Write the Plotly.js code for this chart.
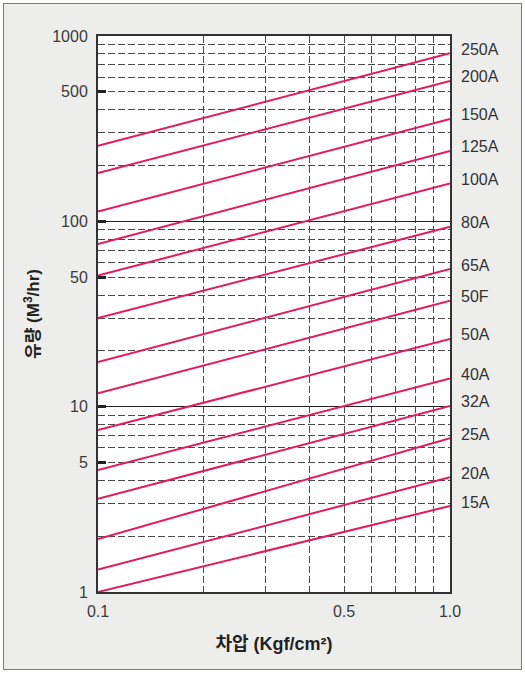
<!DOCTYPE html>
<html>
<head>
<meta charset="utf-8">
<script src="https://cdn.plot.ly/plotly-3.0.1.min.js"></script>
<style>
  html, body { margin: 0; padding: 0; background: #ffffff; }
  #chart { position: absolute; left: 3px; top: 3px; width: 517px; height: 665px; border: 1px solid #7a7a7a; }
</style>
</head>
<body>
<div id="chart"></div>
<script>
// Differential pressure (Kgf/cm²) at the two ends of each line
const pressure = [0.1, 1.0];
// Valve sizes (line labels)
const sizes = ['250A', '200A', '150A', '125A', '100A', '80A', '65A', '50F', '50A', '40A', '32A', '25A', '20A', '15A'];
// Flow (M³/hr) at 0.1 Kgf/cm²
const flowAtLow = [256, 182, 113, 75.5, 51, 30.1, 17.4, 11.8, 7.48, 4.55, 3.18, 1.93, 1.32, 1.0];
// Flow (M³/hr) at 1.0 Kgf/cm²
const flowAtHigh = [807, 572, 357, 240, 160, 93.5, 55.3, 37.3, 23.2, 14.2, 10.1, 6.75, 4.16, 2.91];

// Axis ticks
const yTickVals = [1, 5, 10, 50, 100, 500, 1000];
const yTickText = ['1', '5', '10', '50', '100', '500', '1000'];
const yMinorGrid = [2, 3, 4, 5, 6, 7, 8, 9, 20, 30, 40, 50, 60, 70, 80, 90, 200, 300, 400, 500, 600, 700, 800, 900];
const yMajorGrid = [10, 100];
const xTickVals = [0.1, 0.5, 1.0];
const xTickText = ['0.1', '0.5', '1.0'];
const xMinorGrid = [0.2, 0.3, 0.4, 0.5, 0.6, 0.7, 0.8, 0.9];

const RED = '#E31B5C';
const FONT = 'Liberation Sans, Arial, Helvetica, sans-serif';
const KFONT = 'Liberation Sans, Arial, "Noto Sans CJK KR", sans-serif';

const traces = sizes.map((s, i) => ({
  x: pressure,
  y: [flowAtLow[i], flowAtHigh[i]],
  mode: 'lines',
  name: s,
  line: { color: RED, width: 2 },
  xaxis: 'x', yaxis: 'y',
  hoverinfo: 'skip',
  showlegend: false
}));
// invisible helper traces so that the grid-only overlay axes are drawn
traces.push({ x: [0.1], y: [1], mode: 'markers', marker: { opacity: 0 }, xaxis: 'x2', yaxis: 'y2', hoverinfo: 'skip', showlegend: false });
traces.push({ x: [0.1], y: [1], mode: 'markers', marker: { opacity: 0 }, xaxis: 'x2', yaxis: 'y3', hoverinfo: 'skip', showlegend: false });

const annotations = sizes.map((s, i) => ({
  x: Math.log10(pressure[1]),
  y: Math.log10(flowAtHigh[i]),
  xref: 'x', yref: 'y',
  text: s,
  showarrow: false,
  xanchor: 'left', yanchor: 'middle',
  xshift: 9, yshift: 4,
  font: { family: FONT, size: 16, color: '#333333' }
}));

const gridDash = '7px,3px';

const layout = {
  width: 517, height: 665,
  margin: { l: 94, r: 71, t: 32, b: 77, pad: 0 },
  paper_bgcolor: '#EDEDEB',
  plot_bgcolor: '#ffffff',
  showlegend: false,
  xaxis: {
    type: 'log', range: [-1, 0],
    tickmode: 'array', tickvals: xTickVals, ticktext: xTickText,
    ticks: '', showgrid: false, zeroline: false,
    showline: true, linecolor: '#333333', linewidth: 2, mirror: true,
    ticklabelstandoff: 4,
    tickfont: { family: FONT, size: 16, color: '#3a3a3a' },
    title: { text: '<b>차압 (Kgf/cm²)</b>', standoff: 18, font: { family: KFONT, size: 18, color: '#222222' } },
    automargin: false, fixedrange: true
  },
  xaxis2: {
    type: 'log', range: [-1, 0], overlaying: 'x', anchor: 'y',
    tickmode: 'array', tickvals: xMinorGrid,
    showticklabels: false, ticks: '',
    showgrid: true, griddash: gridDash, gridcolor: '#4a4a4a', gridwidth: 1,
    zeroline: false, showline: false, automargin: false, fixedrange: true
  },
  yaxis: {
    type: 'log', range: [0, 3],
    tickmode: 'array', tickvals: yTickVals, ticktext: yTickText,
    ticks: 'inside', ticklen: 8, tickwidth: 3, tickcolor: '#222222',
    showgrid: false, zeroline: false,
    showline: true, linecolor: '#333333', linewidth: 2, mirror: true,
    ticklabelstandoff: 5,
    tickfont: { family: FONT, size: 16, color: '#3a3a3a' },
    title: { text: '<b>유량 (M<sup>3</sup>/hr)</b>', standoff: 8, font: { family: KFONT, size: 17, color: '#222222' } },
    automargin: false, fixedrange: true
  },
  yaxis2: {
    type: 'log', range: [0, 3], overlaying: 'y', anchor: 'x2',
    tickmode: 'array', tickvals: yMinorGrid,
    showticklabels: false, ticks: '',
    showgrid: true, griddash: gridDash, gridcolor: '#4a4a4a', gridwidth: 1,
    zeroline: false, showline: false, automargin: false, fixedrange: true
  },
  yaxis3: {
    type: 'log', range: [0, 3], overlaying: 'y', anchor: 'x2',
    tickmode: 'array', tickvals: yMajorGrid,
    showticklabels: false, ticks: '',
    showgrid: true, gridcolor: '#222222', gridwidth: 1.5,
    zeroline: false, showline: false, automargin: false, fixedrange: true
  },
  annotations: annotations
};

Plotly.newPlot('chart', traces, layout, { displayModeBar: false, staticPlot: true });
</script>
</body>
</html>
